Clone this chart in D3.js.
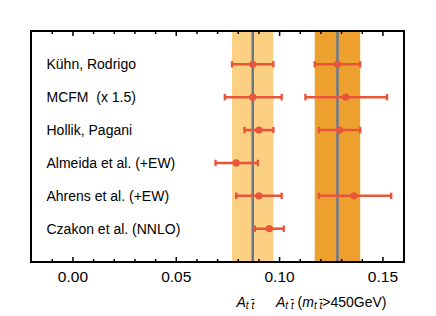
<!DOCTYPE html>
<meta charset="utf-8">
<head>
<style>
body { margin: 0; background: #fff; }
svg { font-family: "Liberation Sans", Arial, sans-serif; }
.label { font-size: 14px; fill: #000; white-space: pre; }
.tick-label { font-size: 15.5px; fill: #000; }
.xtitle { font-size: 14px; fill: #000; }
</style>
</head>
<body>
<svg width="436" height="316"></svg>
<script src="https://cdn.jsdelivr.net/npm/d3@7"></script>
<script>

// predictions for the ttbar forward-backward asymmetry
var labels = ["Kühn, Rodrigo", "MCFM  (x 1.5)", "Hollik, Pagani",
              "Almeida et al. (+EW)", "Ahrens et al. (+EW)", "Czakon et al. (NNLO)"];

// inclusive A_tt
var inclVal = [0.087, 0.087, 0.090, 0.079, 0.090, 0.095];
var inclLo  = [0.077, 0.0735, 0.083, 0.069, 0.079, 0.088];
var inclHi  = [0.097, 0.101, 0.097, 0.0895, 0.101, 0.102];

// A_tt for m_tt > 450 GeV (null = no prediction)
var highVal = [0.128, 0.132, 0.129, null, 0.136, null];
var highLo  = [0.117, 0.1125, 0.119, null, 0.119, null];
var highHi  = [0.139, 0.152, 0.139, null, 0.154, null];

// bands: [low, central, high]
var inclBand = [0.077, 0.087, 0.097];
var highBand = [0.117, 0.128, 0.139];

var xTicks = [0.00, 0.05, 0.10, 0.15];
var xMinor = d3.range(-1, 16).map(function(i) { return i / 100; });

var svg = d3.select("svg"),
    x0 = 31, x1 = 404, y0 = 31, y1 = 262;

var x = d3.scaleLinear().domain([-0.0203, 0.1602]).range([x0, x1]);
var y = d3.scalePoint().domain(labels).range([64.3, 228.7]);

// bands
[[inclBand, "#fcd083"], [highBand, "#eea02f"]].forEach(function(b) {
  svg.append("rect")
      .attr("x", x(b[0][0]))
      .attr("y", y0)
      .attr("width", x(b[0][2]) - x(b[0][0]))
      .attr("height", y1 - y0)
      .attr("fill", b[1]);
  svg.append("line")
      .attr("x1", x(b[0][1])).attr("x2", x(b[0][1]))
      .attr("y1", y0).attr("y2", y1)
      .attr("stroke", "#687890")
      .attr("stroke-width", 2.5);
});

// error bars
var red = "#e8553a";
function drawSeries(val, lo, hi) {
  labels.forEach(function(name, i) {
    if (val[i] == null) return;
    var g = svg.append("g");
    var yy = y(name);
    g.append("line")
        .attr("x1", x(lo[i])).attr("x2", x(hi[i]))
        .attr("y1", yy).attr("y2", yy)
        .attr("stroke", red).attr("stroke-width", 2.6);
    [lo[i], hi[i]].forEach(function(v) {
      g.append("line")
          .attr("x1", x(v)).attr("x2", x(v))
          .attr("y1", yy - 3.2).attr("y2", yy + 3.2)
          .attr("stroke", red).attr("stroke-width", 2.4);
    });
    g.append("circle")
        .attr("cx", x(val[i])).attr("cy", yy)
        .attr("r", 3.6)
        .attr("fill", red);
  });
}
drawSeries(inclVal, inclLo, inclHi);
drawSeries(highVal, highLo, highHi);

// row labels
svg.selectAll(".label")
  .data(labels)
  .enter().append("text")
    .attr("class", "label")
    .attr("x", 46.5)
    .attr("y", function(d) { return y(d) + 5; })
    .text(function(d) { return d; });

// ticks on top and bottom, pointing inward
xMinor.forEach(function(v) {
  var major = xTicks.some(function(t) { return Math.abs(t - v) < 1e-9; });
  var len = major ? 5 : 3;
  svg.append("line")
      .attr("x1", x(v)).attr("x2", x(v))
      .attr("y1", y1).attr("y2", y1 - len)
      .attr("stroke", "#000").attr("stroke-width", 1.5);
  svg.append("line")
      .attr("x1", x(v)).attr("x2", x(v))
      .attr("y1", y0).attr("y2", y0 + len)
      .attr("stroke", "#000").attr("stroke-width", 1.5);
});

svg.selectAll(".tick-label")
  .data(xTicks)
  .enter().append("text")
    .attr("class", "tick-label")
    .attr("x", function(d) { return x(d); })
    .attr("y", 282)
    .attr("text-anchor", "middle")
    .text(function(d) { return d3.format(".2f")(d); });

// frame
svg.append("rect")
    .attr("x", x0).attr("y", y0)
    .attr("width", x1 - x0).attr("height", y1 - y0)
    .attr("fill", "none")
    .attr("stroke", "#000")
    .attr("stroke-width", 2);

// axis titles under the bands
function sub(txt) {
  txt.append("tspan").attr("font-style", "italic").attr("font-size", "10px")
      .attr("dy", 2.5).text("t ");
  txt.append("tspan").attr("font-style", "italic").attr("font-size", "10px")
      .attr("text-decoration", "overline").text("t");
}
function asym(xpos, mass) {
  var txt = svg.append("text").attr("class", "xtitle").attr("x", xpos).attr("y", 306.5);
  txt.append("tspan").attr("font-style", "italic").text("A");
  sub(txt);
  if (mass) {
    txt.append("tspan").attr("dy", -2.5).text(" (");
    txt.append("tspan").attr("font-style", "italic").text("m");
    sub(txt);
    txt.append("tspan").attr("dy", -2.5).text(">450GeV)");
  }
}
asym(236.5, false);
asym(276, true);

</script>
</body>
</html>
